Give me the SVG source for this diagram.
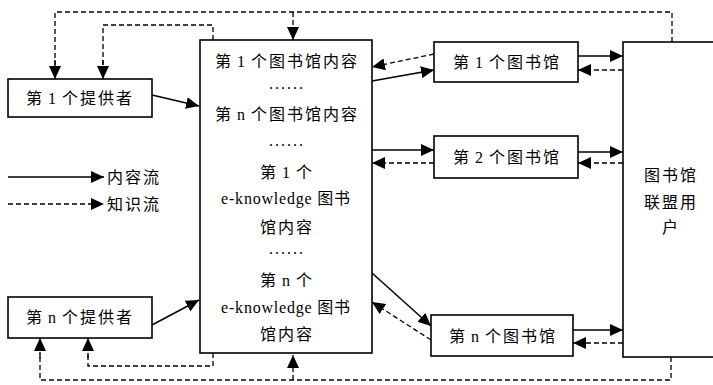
<svg xmlns="http://www.w3.org/2000/svg" width="713" height="385" viewBox="0 0 713 385">
<style>
.box{fill:#fff;stroke:#000;stroke-width:1.6}
.t{font-family:"Liberation Serif","Noto Sans CJK SC",serif;font-size:16px;fill:#000;letter-spacing:2px;word-spacing:-2px}
.m{text-anchor:middle}
.ek{letter-spacing:0.8px;word-spacing:0}
.s{fill:none;stroke:#000;stroke-width:1.5;marker-end:url(#ah)}
.d{fill:none;stroke:#000;stroke-width:1.3;stroke-dasharray:5 3;marker-end:url(#ah)}
.dn{fill:none;stroke:#000;stroke-width:1.3;stroke-dasharray:5 3}
</style>
<defs>
<marker id="ah" markerUnits="userSpaceOnUse" markerWidth="14" markerHeight="12" refX="13" refY="6" orient="auto">
<path d="M0,0 L13,6 L0,12 Z" fill="#000"/>
</marker>
</defs>
<rect width="713" height="385" fill="#fff"/>
<g id="connectors">
<path class="dn" d="M672,42 V12 H55 V66"/>
<path class="d" d="M55,60 V79"/>
<path class="d" d="M293,12 V40"/>
<path class="dn" d="M213,40 V25 H103 V66"/>
<path class="d" d="M103,60 V79"/>
<path class="dn" d="M671,357 V380 H40 V352"/>
<path class="d" d="M40,358 V338"/>
<path class="d" d="M293,380 V355"/>
<path class="dn" d="M213,353 V366 H88 V352"/>
<path class="d" d="M88,358 V338"/>
<path class="s" d="M152,95 L199,106"/>
<path class="s" d="M152,325 L199,300"/>
<path class="s" d="M372,81 L434,70"/>
<path class="d" d="M434,54 L372,67"/>
<path class="s" d="M578,56 H623"/>
<path class="d" d="M623,70 H578"/>
<path class="s" d="M372,150 H434"/>
<path class="d" d="M434,163 H372"/>
<path class="s" d="M578,152 H623"/>
<path class="d" d="M623,163 H578"/>
<path class="s" d="M372,273 L431,326"/>
<path class="d" d="M431,340 L372,302"/>
<path class="s" d="M573,330 H623"/>
<path class="d" d="M623,343 H573"/>
<path class="s" d="M8,177 H104"/>
<path class="d" d="M8,204 H104"/>
</g>
<g id="legend">
<text class="t" x="107" y="183">内容流</text>
<text class="t" x="107" y="210">知识流</text>
</g>
<g id="provider1">
<rect class="box" x="8" y="79" width="144" height="38"/>
<text class="t m" x="80" y="104">第 1 个提供者</text>
</g>
<g id="providern">
<rect class="box" x="8" y="297" width="144" height="41"/>
<text class="t m" x="80" y="323">第 n 个提供者</text>
</g>
<g id="content">
<rect class="box" x="200" y="40" width="172" height="313"/>
<text class="t m" x="287" y="67">第 1 个图书馆内容</text>
<text class="t m" x="287" y="89">......</text>
<text class="t m" x="287" y="120">第 n 个图书馆内容</text>
<text class="t m" x="287" y="146">......</text>
<text class="t m" x="287" y="178">第 1 个</text>
<text class="t m ek" x="286" y="204">e-knowledge 图书</text>
<text class="t m" x="287" y="233">馆内容</text>
<text class="t m" x="287" y="254">......</text>
<text class="t m" x="287" y="286">第 n 个</text>
<text class="t m ek" x="286" y="313">e-knowledge 图书</text>
<text class="t m" x="287" y="340">馆内容</text>
</g>
<g id="library1">
<rect class="box" x="434" y="42" width="144" height="40"/>
<text class="t m" x="507" y="68">第 1 个图书馆</text>
</g>
<g id="library2">
<rect class="box" x="434" y="136" width="144" height="42"/>
<text class="t m" x="507" y="163">第 2 个图书馆</text>
</g>
<g id="libraryn">
<rect class="box" x="431" y="315" width="142" height="41"/>
<text class="t m" x="503" y="342">第 n 个图书馆</text>
</g>
<g id="users">
<rect class="box" x="623" y="42" width="100" height="315"/>
<text class="t m" x="671" y="181">图书馆</text>
<text class="t m" x="671" y="208">联盟用</text>
<text class="t m" x="671" y="233">户</text>
</g>
</svg>
